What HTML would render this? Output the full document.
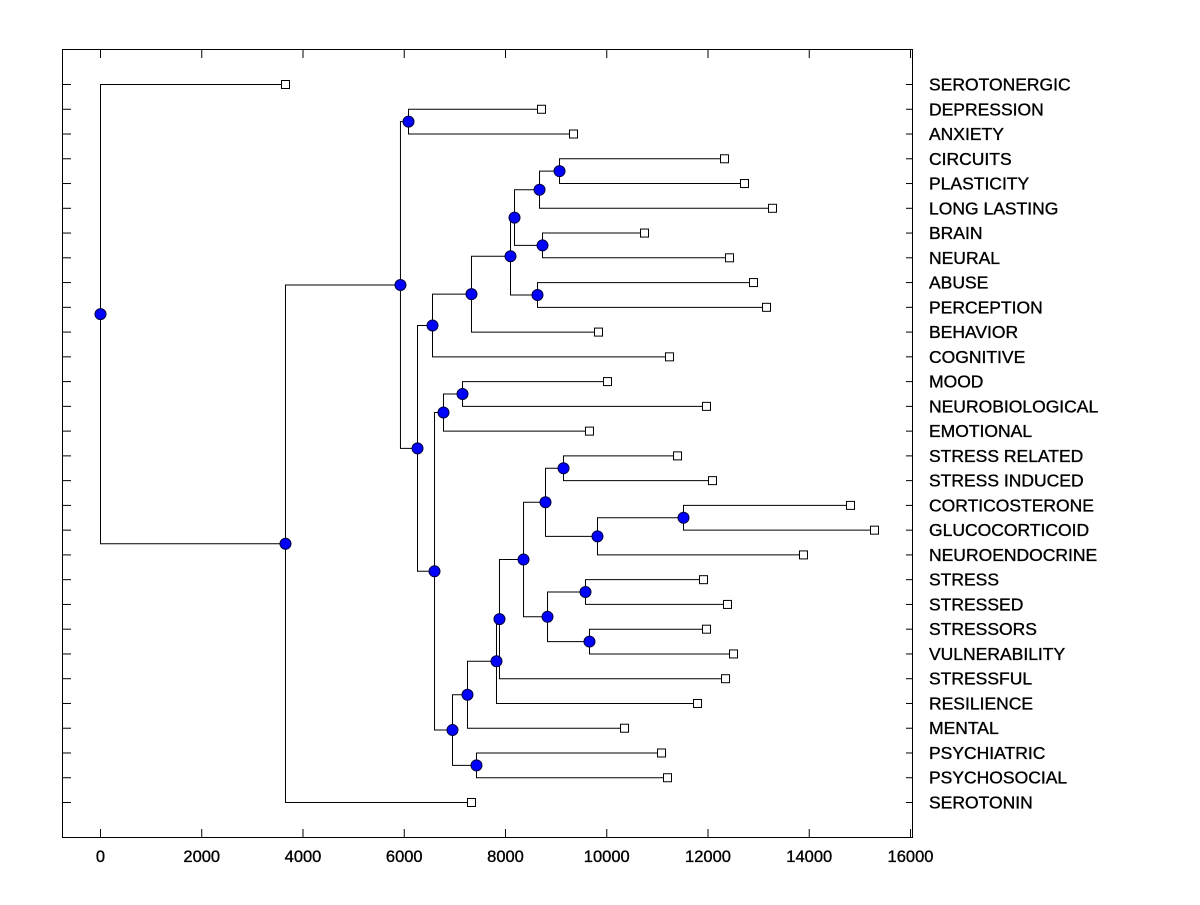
<!DOCTYPE html>
<html><head><meta charset="utf-8"><style>
body{margin:0;background:#fff}
svg text{font-family:"Liberation Sans",sans-serif}
</style></head><body>
<svg id="chart" width="1200" height="900" xmlns="http://www.w3.org/2000/svg">
<rect x="62.5" y="49.5" width="850" height="788" fill="#fff" stroke="#000" stroke-width="1"/>
<g id="g"></g>
</svg>
<script>
const leafNames=["SEROTONERGIC","DEPRESSION","ANXIETY","CIRCUITS","PLASTICITY","LONG LASTING","BRAIN","NEURAL","ABUSE","PERCEPTION","BEHAVIOR","COGNITIVE","MOOD","NEUROBIOLOGICAL","EMOTIONAL","STRESS RELATED","STRESS INDUCED","CORTICOSTERONE","GLUCOCORTICOID","NEUROENDOCRINE","STRESS","STRESSED","STRESSORS","VULNERABILITY","STRESSFUL","RESILIENCE","MENTAL","PSYCHIATRIC","PSYCHOSOCIAL","SEROTONIN"];
const leafValues=[3654,8711,9343,12326,12721,13274,10746,12425,12899,13156,9837,11240,10015,11970,9659,11398,12089,14815,15289,13886,11911,12385,11970,12504,12346,11793,10351,11082,11200,7328];
const mergeA=[3,30,6,31,8,33,35,36,12,38,15,17,41,40,20,22,44,43,47,48,49,27,50,39,37,1,55,56,0];
const mergeB=[4,5,7,32,9,34,10,11,13,14,16,18,19,42,21,23,45,46,24,25,26,28,51,52,53,2,54,29,57];
const mergeHeight=[9067,8672,8731,8178,8632,8099,7328,6558,7151,6775,9146,11516,9817,8790,9580,9659,8830,8356,7881,7822,7249,7427,6953,6598,6262,6084,5925,3654,0];
const xTicks=[0,2000,4000,6000,8000,10000,12000,14000,16000];

const X=v=>100.5+v*0.050625;
const Y=i=>84.5+i*(718/29);
const g=document.getElementById('g');
const NS="http://www.w3.org/2000/svg";
function mk(t,a){const e=document.createElementNS(NS,t);for(const k in a)e.setAttribute(k,a[k]);g.appendChild(e);return e;}
xTicks.forEach(v=>{
 let e=mk('line',{x1:X(v),x2:X(v),y1:838,y2:829,stroke:'#000'});
 
 
 e=mk('line',{x1:X(v),x2:X(v),y1:49,y2:58,stroke:'#000'});
 
 
 e=mk('text',{x:X(v),y:862,'text-anchor':'middle','font-size':'16.5',stroke:'#000','stroke-width':'0.35'});
 e.textContent=v;
 
 
});
leafNames.forEach((n,i)=>{
 let e=mk('line',{x1:62,x2:71,y1:Y(i),y2:Y(i),stroke:'#000'});
 
 
 e=mk('line',{x1:906,x2:913,y1:Y(i),y2:Y(i),stroke:'#000'});
 
 
 e=mk('text',{x:929,y:Y(i)+6,'font-size':'17.5',stroke:'#000','stroke-width':'0.35'});
 e.textContent=n;
 
 
});
const nx=[],ny=[];
leafValues.forEach((v,i)=>{nx[i]=v;ny[i]=Y(i);});
const N=leafNames.length;
mergeA.forEach((a,k)=>{const b=mergeB[k];nx[N+k]=mergeHeight[k];ny[N+k]=(ny[a]+ny[b])/2;});
mergeA.forEach((a,k)=>{
 const b=mergeB[k],h=mergeHeight[k],x=X(h);
 let e=mk('polyline',{points:`${X(nx[a])},${ny[a]} ${x},${ny[a]} ${x},${ny[b]} ${X(nx[b])},${ny[b]}`,fill:'none',stroke:'#000'});
 
 
});
leafValues.forEach((v,i)=>{
 const e=mk('rect',{x:X(v)-4,y:Y(i)-4,width:8,height:8,fill:'#fff',stroke:'#000'});
 
 
});
mergeA.forEach((a,k)=>{
 const e=mk('circle',{cx:X(nx[N+k]),cy:ny[N+k],r:5.5,fill:'#0000ff',stroke:'#000040'});
 
 
});
</script>
</body></html>
